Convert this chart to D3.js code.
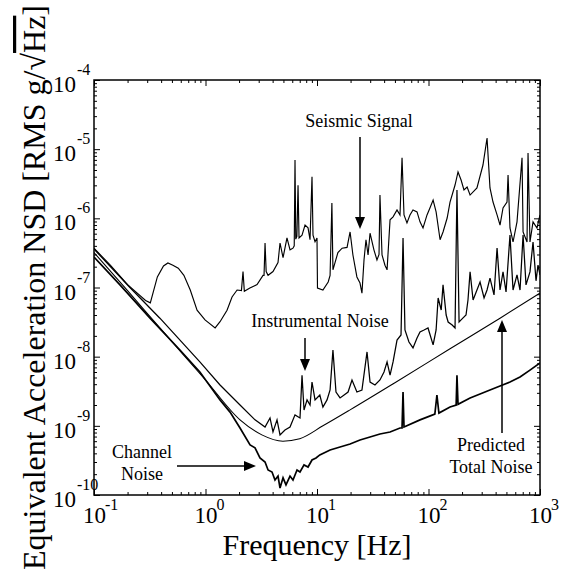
<!DOCTYPE html>
<html>
<head>
<meta charset="utf-8">
<script src="https://cdn.jsdelivr.net/npm/d3@7"></script>
<style>
body { margin:0; background:#fff; }
svg { display:block; font-family:"Liberation Serif","Times New Roman",serif; }
</style>
</head>
<body>
<svg id="chart"></svg>
<script>
// [frequency Hz, NSD g/rtHz]
var seismicSignal = [
  [0.1,3.7e-7],[0.14,2.1e-7],[0.2,1.1e-7],[0.29,6.5e-8],[0.32,6.0e-8],[0.37,1.42e-7],[0.42,2.05e-7],
  [0.46,2.26e-7],[0.51,2.1e-7],[0.57,1.9e-7],[0.64,1.5e-7],[0.73,9.2e-8],[0.84,4.7e-8],[0.99,3.4e-8],
  [1.22,2.6e-8],[1.35,3.2e-8],[1.56,4.7e-8],[1.73,7.3e-8],[1.92,9.2e-8],[2.1,9.0e-8],[2.17,1.7e-7],
  [2.23,8.8e-8],[2.5,9.8e-8],[2.9,1.1e-7],[3.28,1.5e-7],[3.35,1.5e-7],[3.42,4.4e-7],[3.5,1.7e-7],
  [3.64,1.5e-7],[4.03,1.7e-7],[4.47,2.3e-7],[4.66,4.4e-7],[4.96,2.7e-7],[5.38,5.2e-7],[5.73,3.5e-7],
  [6.09,3.7e-7],[6.25,4.0e-7],[6.35,7.0e-6],[6.45,5.0e-7],[6.6,5.5e-7],[6.76,3.0e-6],[6.9,5.2e-7],
  [7.34,5.7e-7],[7.81,8.0e-7],[8.31,7.3e-7],[8.66,4.9e-7],[9.02,4.0e-6],[9.21,5.7e-7],[9.6,4.6e-7],
  [10.0,5.2e-7],[10.1,9.8e-8],[11.3,9.2e-8],[12.6,1.2e-7],[13.1,1.5e-7],[13.6,1.67e-6],[13.9,1.8e-7],
  [15.4,3.2e-7],[16.8,3.7e-7],[18.6,3.8e-7],[19.8,6.35e-7],[21.0,2.95e-7],[22.8,1.42e-7],[24.3,1.16e-7],
  [25.3,8.3e-8],[26.4,2.5e-7],[27.5,4.9e-7],[28.7,2.95e-7],[29.9,6.1e-7],[32.4,3.5e-7],[34.5,2.5e-7],
  [36.0,3.0e-7],[36.7,2.17e-6],[38.3,2.95e-7],[40.7,2.1e-7],[42.5,1.8e-7],[45.2,9.5e-7],[48.1,1.05e-6],
  [52.2,1.32e-6],[55.5,1.12e-6],[57.9,7.5e-6],[60.3,1.12e-6],[64.1,8.6e-7],[68.2,1.12e-6],[72.6,1.32e-6],
  [78.9,1.24e-6],[83.9,8.9e-7],[89.3,7.25e-7],[97,1.12e-6],[103,1.41e-6],[110,1.84e-6],[117,1.24e-6],
  [127,4.9e-7],[135,6.35e-7],[147,1.01e-6],[156,1.72e-6],[173,3.03e-6],[184,4.68e-6],[196,3.58e-6],
  [208,2.57e-6],[222,2.84e-6],[236,2.17e-6],[272,2.75e-6],[308,5.9e-6],[335,1.45e-5],[356,2.75e-6],
  [379,1.72e-6],[412,1.12e-6],[438,8.0e-7],[466,1.41e-6],[506,1.72e-6],[517,4.23e-6],[538,7.25e-7],
  [573,4.55e-7],[622,8.9e-7],[690,7.5e-6],[705,6.35e-7],[765,4.55e-7],[781,8.8e-6],[813,4.55e-7],
  [866,8.9e-7],[940,7.25e-7],[1000,1.12e-6]
];

var instrumentalNoise = [
  [0.1,3.6e-7],[0.21,1.0e-7],[0.39,3.6e-8],[0.89,8.4e-9],[1.35,3.9e-9],[2.04,2.0e-9],[2.78,1.22e-9],
  [3.42,9.6e-10],[3.79,1.3e-9],[4.03,8.15e-10],[4.38,1.22e-9],[4.66,7.4e-10],[5.16,8.7e-10],[5.73,9.6e-10],
  [6.35,1.44e-9],[7.04,1.3e-9],[7.34,5.4e-9],[7.65,1.69e-9],[8.14,2.37e-9],[8.66,2.0e-9],[9.02,4.3e-9],
  [9.6,2.37e-9],[10.6,2.79e-9],[11.3,1.87e-9],[12.3,2.37e-9],[13.1,3.3e-9],[13.9,1.25e-8],[14.8,3.08e-9],
  [16.1,2.53e-9],[17.5,2.79e-9],[19.0,3.08e-9],[20.6,4.6e-9],[22.8,3.08e-9],[25.3,3.3e-9],[28.1,1.17e-8],
  [29.9,4.3e-9],[33.1,3.9e-9],[36.7,4.6e-9],[39.9,6.0e-9],[42.5,8.4e-9],[45.2,5.4e-9],[48.1,8.4e-9],
  [52.2,1.74e-8],[56.7,2.06e-8],[59.1,5.2e-7],[61.5,2.43e-8],[66.8,1.63e-8],[72.6,1.34e-8],[78.9,1.86e-8],
  [83.9,2.28e-8],[91.2,2.43e-8],[99,2.6e-8],[110,1.48e-8],[117,2.43e-8],[122,7.05e-8],[130,4.73e-8],
  [135,1.09e-7],[144,4.0e-8],[150,3.17e-8],[163,2.87e-8],[173,2.6e-8],[180,2.57e-6],[188,3.17e-8],
  [196,3.4e-8],[217,4.0e-8],[226,6.6e-8],[236,1.68e-7],[251,6.6e-8],[272,9.2e-8],[290,1.2e-7],
  [315,7.05e-8],[335,9.2e-8],[356,1.37e-7],[387,7.8e-8],[412,3.73e-7],[438,9.2e-8],[466,1.68e-7],
  [496,8.6e-8],[538,5.74e-7],[573,9.2e-8],[622,1.52e-7],[662,9.2e-8],[705,5.74e-7],[749,1.09e-7],
  [813,1.68e-7],[866,4.55e-7],[921,1.25e-7],[960,2.11e-7],[1000,1.52e-7]
];

var channelNoise = [
  [0.1,2.76e-7],[0.171,1.09e-7],[0.318,3.6e-8],[0.59,1.25e-8],[0.89,6.0e-9],[1.35,2.37e-9],[1.66,1.58e-9],
  [2.04,9.3e-10],[2.51,5.3e-10],[2.78,4.8e-10],[3.08,3.43e-10],[3.42,3.0e-10],[3.64,2.3e-10],[3.95,2.15e-10],
  [4.2,1.65e-10],[4.47,1.88e-10],[4.66,1.26e-10],[4.96,1.77e-10],[5.27,1.4e-10],[5.73,1.88e-10],
  [6.09,1.65e-10],[6.62,2.3e-10],[7.04,2.15e-10],[7.65,2.72e-10],[8.31,2.54e-10],[9.02,3.21e-10],
  [9.8,3.43e-10],[10.6,3.8e-10],[13.1,4.48e-10],[16.1,4.95e-10],[19.8,5.47e-10],[24.3,6.25e-10],
  [29.9,6.9e-10],[36.7,7.63e-10],[45.2,8.15e-10],[55.5,9.3e-10],[57.9,9.3e-10],[59.1,3.08e-9],[60.3,9.6e-10],
  [83.9,1.22e-9],[114,1.48e-9],[119,2.79e-9],[124,1.53e-9],[156,1.87e-9],[177,2.0e-9],[180,5.4e-9],
  [184,2.05e-9],[236,2.53e-9],[290,2.89e-9],[356,3.3e-9],[438,3.77e-9],[538,4.3e-9],[662,5.08e-9],
  [813,6.4e-9],[1000,8.1e-9]
];

var predictedNoise = [
  [0.1,3.2e-7],[0.2,9.0e-8],[0.39,2.6e-8],[1.0,4.6e-9],[2.04,1.22e-9],[3.2,7.4e-10],[4.95,6.0e-10],
  [7.0,6.5e-10],[11.3,1.0e-9],[19.8,1.7e-9],[50,4.2e-9],[156,1.3e-8],[438,3.6e-8],[1000,8.3e-8]
];

var xDecades = [0.1, 1, 10, 100, 1000];
var xExponents = ["-1", "0", "1", "2", "3"];
var yDecades = [1e-10, 1e-9, 1e-8, 1e-7, 1e-6, 1e-5, 1e-4];
var yExponents = ["-10", "-9", "-8", "-7", "-6", "-5", "-4"];

var screen = { width:566, height:574 };
var margins = { top:80, right:26, bottom:79, left:94 };
var width = screen.width - margins.left - margins.right;
var height = screen.height - margins.top - margins.bottom;

var svg = d3.select("#chart")
            .attr("width", screen.width)
            .attr("height", screen.height);

var xScale = d3.scaleLog().domain([0.1, 1000]).range([0, width]);
var yScale = d3.scaleLog().domain([1e-10, 1e-4]).range([height, 0]);

// minor tick positions 2..9 inside each decade
var xMinor = [], yMinor = [];
xDecades.slice(0, -1).forEach(function(d) { for (var k = 2; k < 10; k++) xMinor.push(d * k); });
yDecades.slice(0, -1).forEach(function(d) { for (var k = 2; k < 10; k++) yMinor.push(d * k); });

var plot = svg.append("g")
              .attr("transform", "translate(" + margins.left + "," + margins.top + ")");

svg.append("defs").append("clipPath").attr("id", "clip")
   .append("rect").attr("width", width).attr("height", height);

// axes, ticks pointing inward on all four sides
function tickAxis(axisFn, scale, values, size, transform)
{
  var g = plot.append("g")
              .attr("transform", transform)
              .call(axisFn(scale).tickValues(values).tickSizeInner(-size).tickSizeOuter(0).tickFormat(""));
  g.select(".domain").remove();
  g.selectAll("line").attr("stroke", "#000").attr("stroke-width", 1);
  return g;
}
tickAxis(d3.axisBottom, xScale, xDecades, 6, "translate(0," + height + ")");
tickAxis(d3.axisBottom, xScale, xMinor, 3, "translate(0," + height + ")");
tickAxis(d3.axisTop, xScale, xDecades, 6, "translate(0,0)");
tickAxis(d3.axisTop, xScale, xMinor, 3, "translate(0,0)");
tickAxis(d3.axisLeft, yScale, yDecades, 6, "translate(0,0)");
tickAxis(d3.axisLeft, yScale, yMinor, 3, "translate(0,0)");
tickAxis(d3.axisRight, yScale, yDecades, 6, "translate(" + width + ",0)");
tickAxis(d3.axisRight, yScale, yMinor, 3, "translate(" + width + ",0)");

// tick labels as 10 with superscript exponent
var xLabels = plot.append("g").selectAll("text")
                  .data(xDecades)
                  .enter()
                  .append("text")
                  .attr("x", function(d) { return xScale(d) - 11; })
                  .attr("y", height + 28)
                  .attr("font-size", 23);
xLabels.append("tspan").text("10");
xLabels.append("tspan")
       .attr("dy", -13).attr("dx", -1)
       .attr("font-size", 16)
       .text(function(d, i) { return xExponents[i]; });

var yLabels = plot.append("g").selectAll("text")
                  .data(yDecades)
                  .enter()
                  .append("text")
                  .attr("x", -41)
                  .attr("y", function(d) { return yScale(d) + 12; })
                  .attr("font-size", 23);
yLabels.append("tspan").text("10");
yLabels.append("tspan")
       .attr("dy", -17).attr("dx", 1)
       .attr("font-size", 16)
       .text(function(d, i) { return yExponents[i]; });

// curves
var line = d3.line()
             .x(function(d) { return xScale(d[0]); })
             .y(function(d) { return yScale(d[1]); });

var curves = plot.append("g").attr("clip-path", "url(#clip)");

curves.append("path").datum(predictedNoise)
      .attr("d", line.curve(d3.curveMonotoneX))
      .attr("fill", "none").attr("stroke", "#000").attr("stroke-width", 1.1);
line.curve(d3.curveLinear);
curves.append("path").datum(channelNoise)
      .attr("d", line)
      .attr("fill", "none").attr("stroke", "#000").attr("stroke-width", 1.7);
curves.append("path").datum(instrumentalNoise)
      .attr("d", line)
      .attr("fill", "none").attr("stroke", "#000").attr("stroke-width", 1.25);
curves.append("path").datum(seismicSignal)
      .attr("d", line)
      .attr("fill", "none").attr("stroke", "#000").attr("stroke-width", 1.15);

// frame
plot.append("rect")
    .attr("width", width).attr("height", height)
    .attr("fill", "none").attr("stroke", "#000").attr("stroke-width", 1.5);

// annotations with arrows
function arrow(x1, y1, x2, y2)
{
  var ang = Math.atan2(y2 - y1, x2 - x1), len = 12, half = 5;
  var bx = x2 - len * Math.cos(ang), by = y2 - len * Math.sin(ang);
  svg.append("line")
     .attr("x1", x1).attr("y1", y1).attr("x2", bx).attr("y2", by)
     .attr("stroke", "#000").attr("stroke-width", 1.5);
  svg.append("path")
     .attr("d", "M" + x2 + "," + y2 +
                "L" + (bx + half * Math.sin(ang)) + "," + (by - half * Math.cos(ang)) +
                "L" + (bx - half * Math.sin(ang)) + "," + (by + half * Math.cos(ang)) + "Z")
     .attr("fill", "#000");
}
function note(lines, cx, y0)
{
  lines.forEach(function(t, i)
  {
    svg.append("text")
       .attr("x", cx).attr("y", y0 + i * 22)
       .attr("text-anchor", "middle")
       .attr("font-size", 18)
       .text(t);
  });
}

note(["Seismic Signal"], 359, 127);
arrow(360, 137, 360, 229);
note(["Instrumental Noise"], 320, 327);
arrow(305, 338, 305, 371);
note(["Channel", "Noise"], 142, 458);
arrow(177, 466, 256, 466);
note(["Predicted", "Total Noise"], 491, 451);
arrow(502, 433, 502, 320);

// axis titles
svg.append("text")
   .attr("x", margins.left + width / 2)
   .attr("y", 555)
   .attr("text-anchor", "middle")
   .attr("font-size", 30)
   .text("Frequency [Hz]");

var yTitle = svg.append("text")
                .attr("transform", "translate(45," + (margins.top + height / 2) + ") rotate(-90)")
                .attr("text-anchor", "middle")
                .attr("font-size", 32);
yTitle.append("tspan").text("Equivalent Acceleration NSD [RMS g/\u221A");
yTitle.append("tspan").style("text-decoration", "overline").text("Hz");
yTitle.append("tspan").text("]");
</script>
</body>
</html>
